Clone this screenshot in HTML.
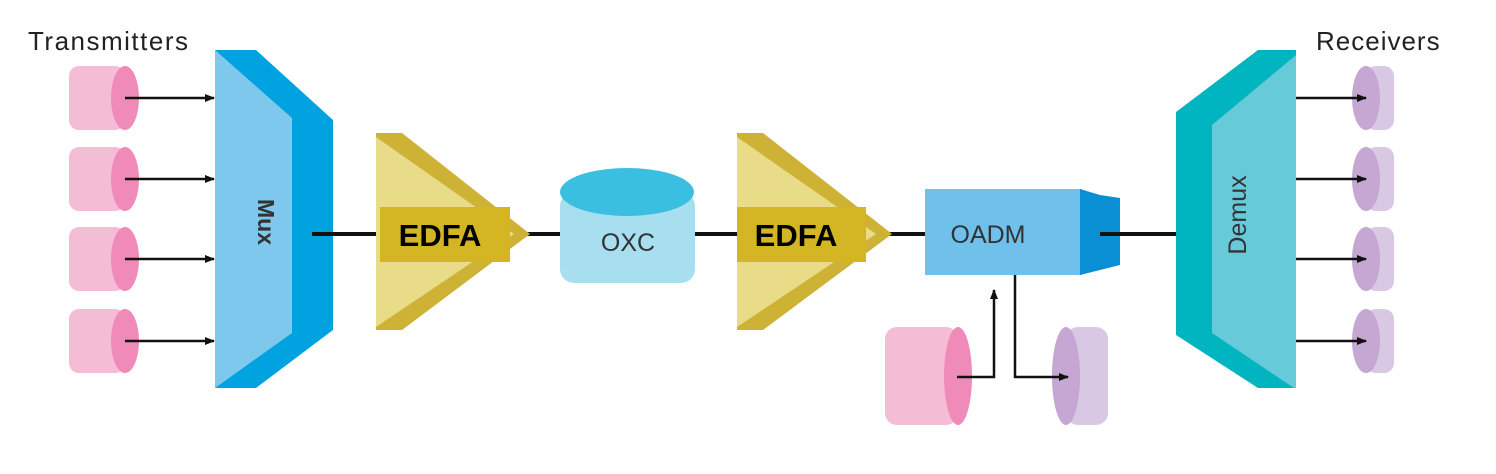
<!DOCTYPE html>
<html><head><meta charset="utf-8"><style>
html,body{margin:0;padding:0;background:#fff;}
svg{display:block;}
</style></head><body>
<svg width="1496" height="474" viewBox="0 0 1496 474" xmlns="http://www.w3.org/2000/svg">
<defs>
<marker id="ah" markerWidth="10" markerHeight="10" refX="9" refY="5" orient="auto" markerUnits="userSpaceOnUse">
<path d="M0,1 L10,5 L0,9 Z" fill="#111"/></marker>
<g id="tx">
<rect x="69" y="66" width="56" height="64" rx="10" fill="#f5bcd6"/>
<ellipse cx="125" cy="98" rx="14" ry="32" fill="#f08ab8"/>
</g>
<g id="rx">
<rect x="1366" y="66" width="28" height="64" rx="10" fill="#d8c8e4"/>
<ellipse cx="1366" cy="98" rx="14" ry="32" fill="#c6a6d2"/>
</g>
</defs>

<text x="28" y="50" font-family="Liberation Sans, sans-serif" font-size="26" letter-spacing="1.5" fill="#222">Transmitters</text>
<text x="1316" y="50" font-family="Liberation Sans, sans-serif" font-size="26" letter-spacing="1" fill="#222">Receivers</text>

<!-- transmitters -->
<use href="#tx"/>
<use href="#tx" y="81"/>
<use href="#tx" y="161"/>
<use href="#tx" y="243"/>
<g stroke="#111" stroke-width="2.5" marker-end="url(#ah)">
<line x1="125" y1="98" x2="214" y2="98"/>
<line x1="125" y1="179" x2="214" y2="179"/>
<line x1="125" y1="259" x2="214" y2="259"/>
<line x1="125" y1="341" x2="214" y2="341"/>
</g>

<!-- Mux -->
<polygon points="215,50 256,50 333,120 333,330 256,388 215,388" fill="#00a3e0"/>
<polygon points="215,50 292,118 292,333 215,388" fill="#7ec8ee"/>
<text transform="translate(258,222) rotate(90)" text-anchor="middle" font-family="Liberation Sans, sans-serif" font-size="23" font-weight="bold" fill="#333">Mux</text>

<!-- lines -->
<g stroke="#111" stroke-width="4">
<line x1="312" y1="234" x2="380" y2="234"/>
<line x1="510" y1="234" x2="560" y2="234"/>
<line x1="693" y1="234" x2="737" y2="234"/>
<line x1="866" y1="234" x2="925" y2="234"/>
<line x1="1100" y1="234" x2="1195" y2="234"/>
</g>

<!-- EDFA 1 -->
<polygon points="376,133 402,133 530,234 402,330 376,330" fill="#cdb235"/>
<polygon points="376,137 514,234 376,327" fill="#e8dc88"/>
<rect x="380" y="207" width="130" height="55" fill="#d4b624"/>
<text x="440" y="246" text-anchor="middle" font-family="Liberation Sans, sans-serif" font-size="31" font-weight="bold" fill="#000">EDFA</text>

<!-- OXC -->
<rect x="560" y="192" width="135" height="91" rx="14" fill="#a8dff0"/>
<ellipse cx="627" cy="192" rx="67" ry="24" fill="#3bbfe0"/>
<text x="628" y="251" text-anchor="middle" font-family="Liberation Sans, sans-serif" font-size="25" fill="#333">OXC</text>

<!-- EDFA 2 -->
<polygon points="737,133 763,133 892,234 763,330 737,330" fill="#cdb235"/>
<polygon points="737,137 876,234 737,327" fill="#e8dc88"/>
<rect x="737" y="207" width="129" height="55" fill="#d4b624"/>
<text x="796" y="246" text-anchor="middle" font-family="Liberation Sans, sans-serif" font-size="31" font-weight="bold" fill="#000">EDFA</text>

<!-- OADM -->
<rect x="925" y="189" width="157" height="86" fill="#6fc1ec"/>
<polygon points="1080,189 1100,195 1120,198 1120,265 1100,270 1080,275" fill="#0b8fd4"/>
<line x1="1100" y1="234" x2="1195" y2="234" stroke="#111" stroke-width="4"/>
<text x="988" y="243" text-anchor="middle" font-family="Liberation Sans, sans-serif" font-size="25" fill="#333">OADM</text>

<!-- Add/drop -->
<rect x="885" y="327" width="73" height="98" rx="12" fill="#f5bcd6"/>
<ellipse cx="958" cy="376" rx="14" ry="49" fill="#f08ab8"/>
<rect x="1066" y="327" width="42" height="98" rx="12" fill="#d8c8e4"/>
<ellipse cx="1066" cy="376" rx="14" ry="49" fill="#c6a6d2"/>
<polyline points="957,377 994,377 994,290" fill="none" stroke="#111" stroke-width="2.5" marker-end="url(#ah)"/>
<polyline points="1015,275 1015,377 1068,377" fill="none" stroke="#111" stroke-width="2.5" marker-end="url(#ah)"/>

<!-- Demux -->
<polygon points="1296,50 1258,50 1176,112 1176,335 1258,388 1296,388" fill="#00b5c0"/>
<polygon points="1296,55 1212,125 1212,333 1294,388 1296,388" fill="#66cad8"/>
<text transform="translate(1246,215) rotate(-90)" text-anchor="middle" font-family="Liberation Sans, sans-serif" font-size="25" fill="#333">Demux</text>

<!-- receivers -->
<use href="#rx"/>
<use href="#rx" y="81"/>
<use href="#rx" y="161"/>
<use href="#rx" y="243"/>
<g stroke="#111" stroke-width="2.5" marker-end="url(#ah)">
<line x1="1296" y1="98" x2="1366" y2="98"/>
<line x1="1296" y1="179" x2="1366" y2="179"/>
<line x1="1296" y1="259" x2="1366" y2="259"/>
<line x1="1296" y1="341" x2="1366" y2="341"/>
</g>
</svg>
</body></html>
